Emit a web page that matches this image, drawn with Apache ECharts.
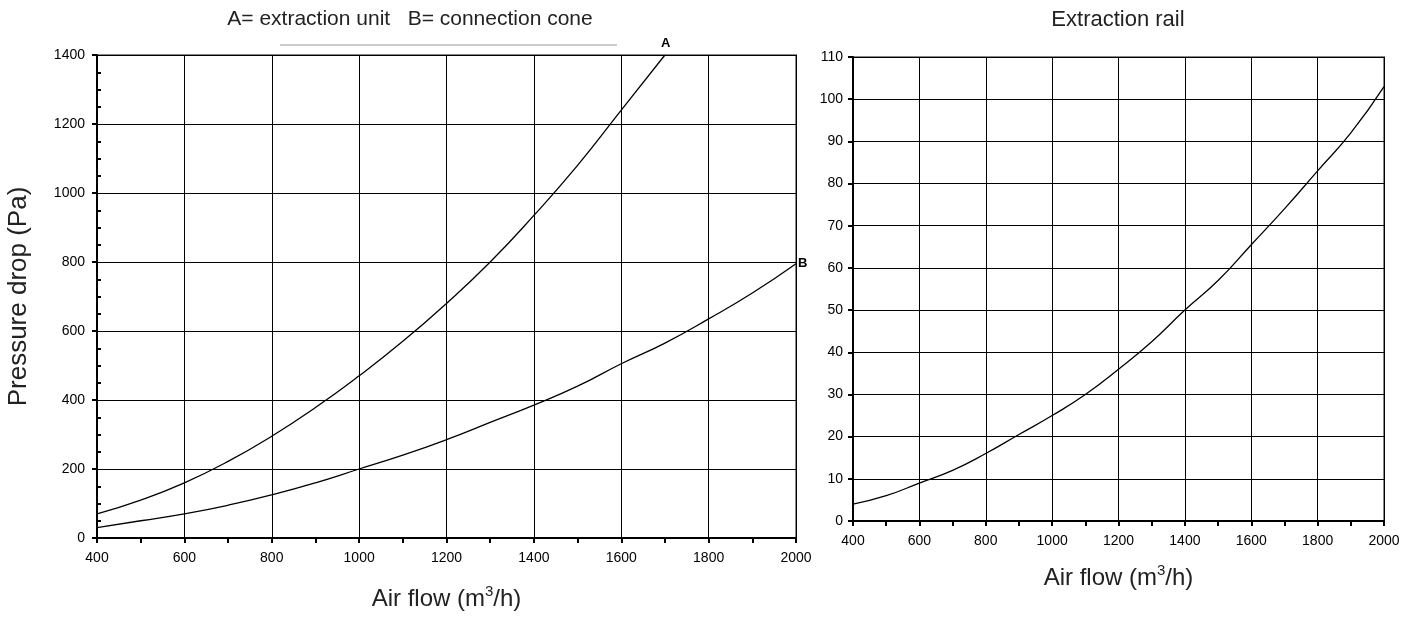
<!DOCTYPE html>
<html>
<head>
    <title>Pressure drop</title>
    <script src="https://cdn.jsdelivr.net/npm/echarts@6/dist/echarts.min.js"></script>
</head>
<body style="margin:0">
    <div id="main" style="width:1413px; height:617px;"></div>

    <script>
        // air flow (m3/h)
        const flowA = [400, 500, 600, 700, 800, 900, 1000, 1100, 1200, 1300, 1400, 1500, 1600, 1700];
        const flow = [400, 500, 600, 700, 800, 900, 1000, 1100, 1200, 1300, 1400, 1500, 1600, 1700, 1800, 1900, 2000];
        // pressure drop (Pa)
        const unitA = [70, 110, 160, 222, 295, 378, 470, 570, 680, 800, 935, 1080, 1240, 1400];
        const coneB = [30, 50, 70, 95, 125, 160, 200, 240, 285, 335, 385, 440, 505, 565, 635, 710, 795];
        const rail = [4, 6, 9, 12, 16, 20.5, 25, 30, 36, 42.5, 50, 57, 65.5, 74, 83, 92, 103];

        const font = 'Liberation Sans, Arial, sans-serif';
        const pair = (xs, ys) => xs.map((x, i) => [x, ys[i]]);
        const plain = v => String(v);

        function xAxis(gridIndex) {
            return {
                type: 'value', gridIndex: gridIndex,
                min: 400, max: 2000, interval: 200,
                name: 'Air flow (m{sup|3}/h)',
                nameLocation: 'middle',
                nameGap: gridIndex === 0 ? 41 : 37,
                nameTextStyle: {
                    fontFamily: font, fontSize: 24, color: '#222',
                    rich: { sup: { fontSize: 15, verticalAlign: 'top', padding: [0, 0, 8, 0], color: '#222', fontFamily: font } }
                },
                axisLine: { lineStyle: { color: '#000', width: 2 } },
                axisTick: { show: true, length: 5, lineStyle: { color: '#000', width: 2 } },
                minorTick: { show: true, splitNumber: 2, length: 5, lineStyle: { color: '#000', width: 2 } },
                axisLabel: { color: '#000', fontSize: 14, fontFamily: font, margin: 8, formatter: plain },
                splitLine: { show: true, lineStyle: { color: '#000', width: 1 } }
            };
        }

        const lineStyle = { color: '#000', width: 1.3 };

        const option = {
            animation: false,
            backgroundColor: '#fff',
            title: [
                { text: 'A= extraction unit   B= connection cone', left: 410, top: 1, padding: 0, textAlign: 'center',
                  textStyle: { fontFamily: font, fontSize: 21, fontWeight: 'normal', color: '#222' } },
                { text: 'Extraction rail', left: 1118, top: 1, padding: 0, textAlign: 'center',
                  textStyle: { fontFamily: font, fontSize: 22, fontWeight: 'normal', color: '#222' } }
            ],
            graphic: [
                { type: 'line', shape: { x1: 280, y1: 45, x2: 617, y2: 45 }, style: { stroke: '#999', lineWidth: 1 } }
            ],
            grid: [
                { left: 97, right: 617, top: 55, bottom: 79, show: true, borderColor: '#888', borderWidth: 2,
                  outerBoundsMode: 'none', containLabel: false },
                { left: 853, right: 29, top: 57, bottom: 96, show: true, borderColor: '#888', borderWidth: 2,
                  outerBoundsMode: 'none', containLabel: false }
            ],
            xAxis: [xAxis(0), xAxis(1)],
            yAxis: [
                {
                    type: 'value', gridIndex: 0, min: 0, max: 1400, interval: 200,
                    name: 'Pressure drop (Pa)', nameLocation: 'middle', nameGap: 56,
                    nameTextStyle: { fontFamily: font, fontSize: 26, color: '#222' },
                    axisLine: { show: true, lineStyle: { color: '#000', width: 2 } },
                    axisTick: { show: true, length: 5, lineStyle: { color: '#000', width: 2 } },
                    minorTick: { show: true, splitNumber: 4, length: -4, lineStyle: { color: '#000', width: 2 } },
                    axisLabel: { color: '#000', fontSize: 14, fontFamily: font, margin: 12, formatter: plain },
                    splitLine: { show: true, lineStyle: { color: '#000', width: 1 } }
                },
                {
                    type: 'value', gridIndex: 1, min: 0, max: 110, interval: 10,
                    axisLine: { show: true, lineStyle: { color: '#000', width: 2 } },
                    axisTick: { show: true, length: 5, lineStyle: { color: '#000', width: 2 } },
                    axisLabel: { color: '#000', fontSize: 14, fontFamily: font, margin: 10, formatter: plain },
                    splitLine: { show: true, lineStyle: { color: '#000', width: 1 } }
                }
            ],
            series: [
                {
                    name: 'A', type: 'line', xAxisIndex: 0, yAxisIndex: 0,
                    data: pair(flowA, unitA), smooth: true, showSymbol: false, lineStyle: lineStyle,
                    endLabel: { show: true, formatter: 'A', fontWeight: 'bold', fontSize: 13, color: '#000',
                                fontFamily: font, offset: [-12, -12] }
                },
                {
                    name: 'B', type: 'line', xAxisIndex: 0, yAxisIndex: 0,
                    data: pair(flow, coneB), smooth: true, showSymbol: false, lineStyle: lineStyle,
                    endLabel: { show: true, formatter: 'B', fontWeight: 'bold', fontSize: 13, color: '#000',
                                fontFamily: font, distance: 2 }
                },
                {
                    name: 'Extraction rail', type: 'line', xAxisIndex: 1, yAxisIndex: 1,
                    data: pair(flow, rail), smooth: true, showSymbol: false, lineStyle: lineStyle
                }
            ]
        };

        const chart = echarts.init(document.getElementById('main'));
        chart.setOption(option);
    </script>
</body>
</html>
